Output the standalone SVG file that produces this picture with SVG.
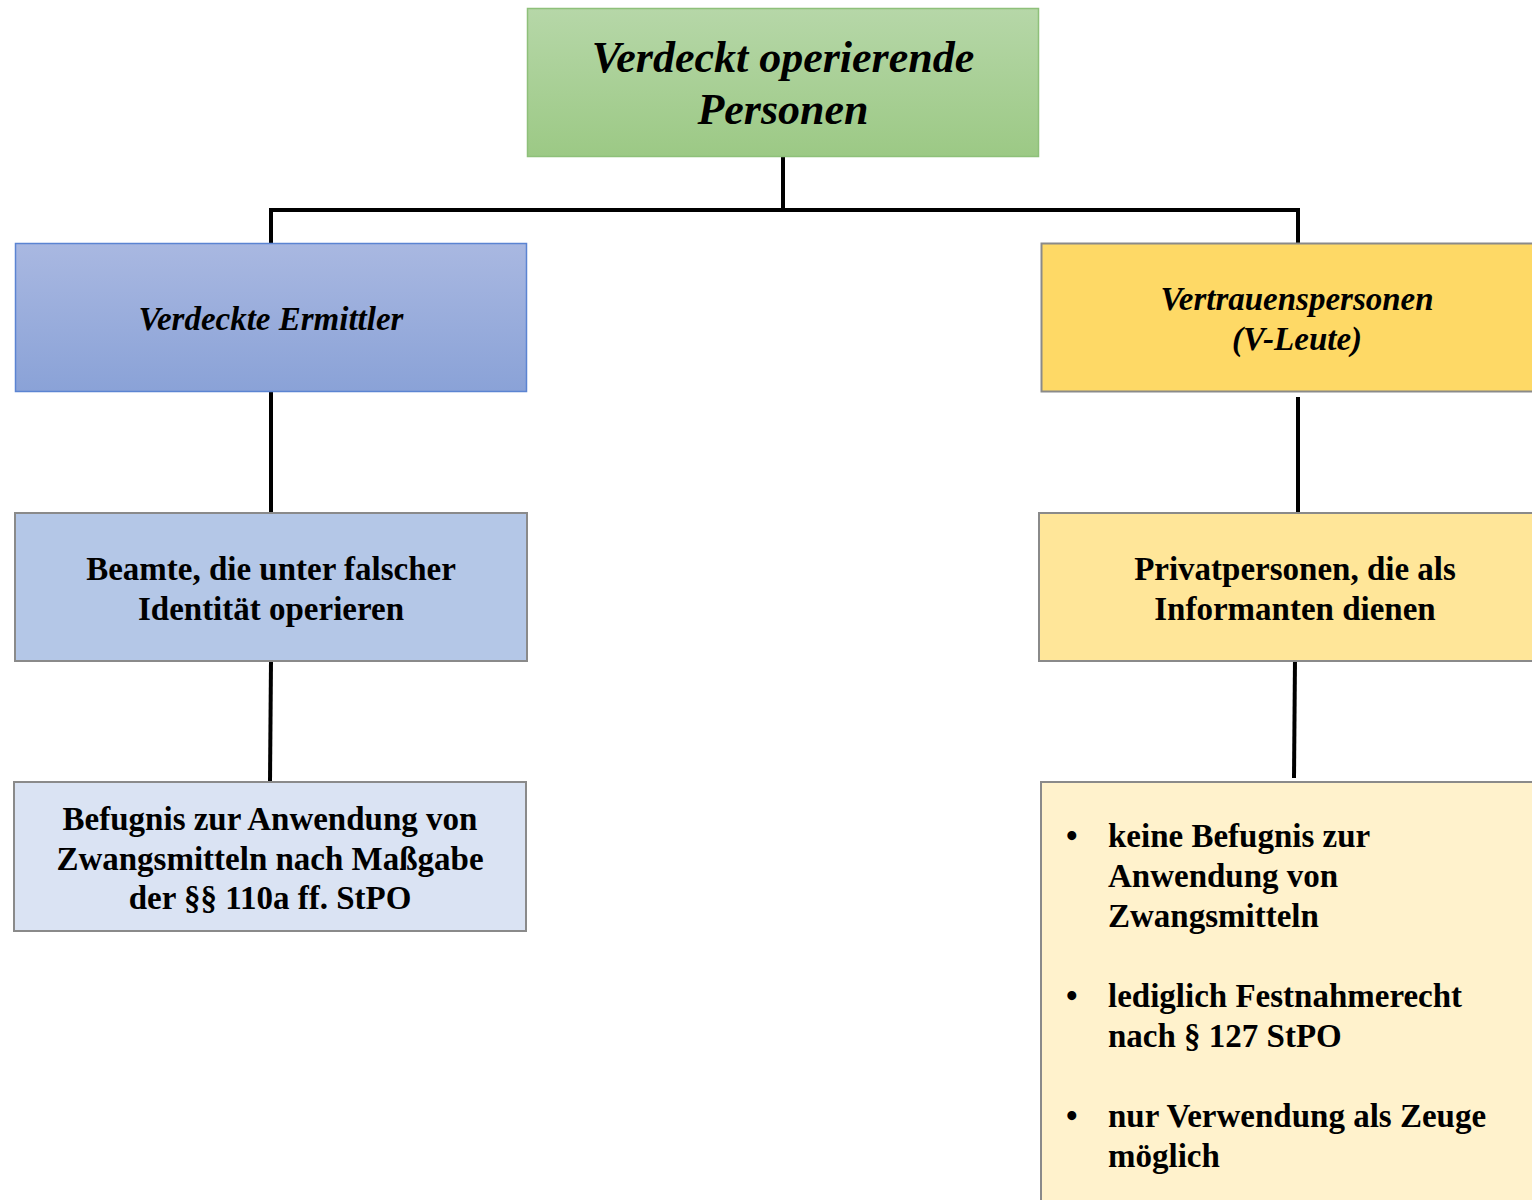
<svg xmlns="http://www.w3.org/2000/svg" width="1532" height="1200" viewBox="0 0 1532 1200">
  <style>
    .lbl { font-family: "Liberation Serif", "Times New Roman", serif; font-weight: bold; fill: #000; text-anchor: middle; }
    .it { font-style: italic; }
    .blt { font-family: "Liberation Serif", "Times New Roman", serif; font-weight: bold; fill: #000; font-size: 33px; }
    .conn { stroke: #000; stroke-width: 4; fill: none; }
  </style>
  <defs>
    <linearGradient id="gGreen" x1="0" y1="0" x2="0" y2="1">
      <stop offset="0" stop-color="#b6d7a8"/>
      <stop offset="1" stop-color="#9cc985"/>
    </linearGradient>
    <linearGradient id="gBlue" x1="0" y1="0" x2="0" y2="1">
      <stop offset="0" stop-color="#a9b8e1"/>
      <stop offset="1" stop-color="#8aa2d7"/>
    </linearGradient>
  </defs>
  <rect width="1532" height="1200" fill="#fff"/>

  <g id="connectors">
    <polyline class="conn" points="783,157 783,210 271,210 271,243"/>
    <polyline class="conn" points="783,210 1298,210 1298,243"/>
    <line class="conn" x1="271" y1="392" x2="271" y2="513"/>
    <line class="conn" x1="271" y1="661" x2="270" y2="782"/>
    <line class="conn" x1="1298" y1="397" x2="1298" y2="515"/>
    <line class="conn" x1="1295" y1="659" x2="1294" y2="778"/>
  </g>

  <g id="root">
    <rect x="527.5" y="8.5" width="511" height="148" fill="url(#gGreen)" stroke="#8ec07a" stroke-width="1.5"/>
    <text class="lbl it" font-size="44" x="783" y="72">Verdeckt operierende</text>
    <text class="lbl it" font-size="44" x="783" y="124">Personen</text>
  </g>

  <g id="ve">
    <rect x="15.5" y="243.5" width="511" height="148" fill="url(#gBlue)" stroke="#5b84d2" stroke-width="1.5"/>
    <text class="lbl it" font-size="33" x="271" y="330">Verdeckte Ermittler</text>
  </g>

  <g id="vp">
    <rect x="1041.5" y="243.5" width="496" height="148" fill="#fed966" stroke="#8a8a8a" stroke-width="2"/>
    <text class="lbl it" font-size="33" x="1297" y="310">Vertrauenspersonen</text>
    <text class="lbl it" font-size="33" x="1297" y="350">(V-Leute)</text>
  </g>

  <g id="beamte">
    <rect x="15" y="513" width="512" height="148" fill="#b4c7e7" stroke="#8a8a8a" stroke-width="2"/>
    <text class="lbl" font-size="33" x="271" y="580">Beamte, die unter falscher</text>
    <text class="lbl" font-size="33" x="271" y="620">Identität operieren</text>
  </g>

  <g id="privat">
    <rect x="1039" y="513" width="498" height="148" fill="#ffe699" stroke="#8a8a8a" stroke-width="2"/>
    <text class="lbl" font-size="33" x="1295" y="580">Privatpersonen, die als</text>
    <text class="lbl" font-size="33" x="1295" y="620">Informanten dienen</text>
  </g>

  <g id="befugnis">
    <rect x="14" y="782" width="512" height="149" fill="#dae3f3" stroke="#8a8a8a" stroke-width="2"/>
    <text class="lbl" font-size="33" x="270" y="830">Befugnis zur Anwendung von</text>
    <text class="lbl" font-size="33" x="270" y="870">Zwangsmitteln nach Maßgabe</text>
    <text class="lbl" font-size="33" x="270" y="909">der §§ 110a ff. StPO</text>
  </g>

  <g id="keine">
    <rect x="1041" y="782" width="496" height="430" fill="#fff2cc" stroke="#8a8a8a" stroke-width="2"/>
    <text class="blt" x="1066" y="847">•</text>
    <text class="blt" x="1108" y="847">keine Befugnis zur</text>
    <text class="blt" x="1108" y="887">Anwendung von</text>
    <text class="blt" x="1108" y="927">Zwangsmitteln</text>
    <text class="blt" x="1066" y="1007">•</text>
    <text class="blt" x="1108" y="1007">lediglich Festnahmerecht</text>
    <text class="blt" x="1108" y="1047">nach § 127 StPO</text>
    <text class="blt" x="1066" y="1127">•</text>
    <text class="blt" x="1108" y="1127">nur Verwendung als Zeuge</text>
    <text class="blt" x="1108" y="1167">möglich</text>
  </g>
</svg>
